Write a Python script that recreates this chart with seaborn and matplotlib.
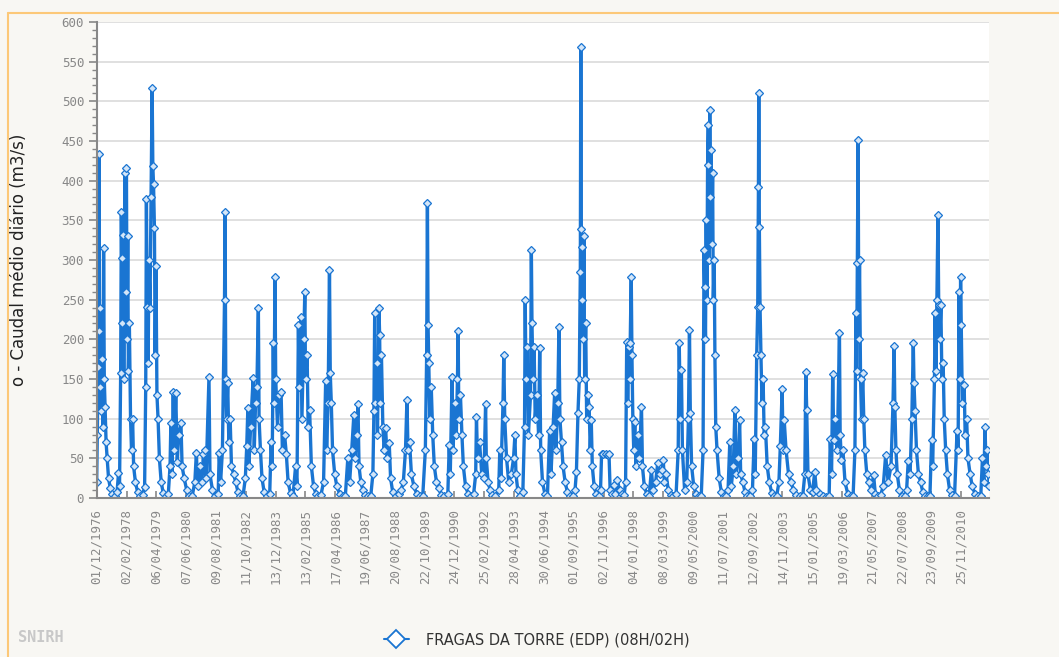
import matplotlib
matplotlib.use("Agg")
import matplotlib.pyplot as plt
from matplotlib.lines import Line2D
from matplotlib.ticker import MultipleLocator
import seaborn as sns
import pandas as pd

# caudal medio diario (m3/s)
leituras_1976_1982 = [
    ("1976-12-01", 20), ("1976-12-10", 80), ("1976-12-20", 165), ("1976-12-28", 210),
    ("1977-01-05", 433), ("1977-01-12", 140), ("1977-01-20", 240), ("1977-02-01", 110),
    ("1977-02-15", 175), ("1977-03-01", 90), ("1977-03-10", 315), ("1977-03-20", 150),
    ("1977-04-01", 115), ("1977-04-15", 70), ("1977-05-01", 50), ("1977-05-20", 25),
    ("1977-06-15", 12), ("1977-07-15", 5), ("1977-08-20", 3), ("1977-09-20", 8),
    ("1977-10-10", 31), ("1977-10-25", 15), ("1977-11-10", 157), ("1977-11-20", 360),
    ("1977-11-25", 303), ("1977-12-05", 220), ("1977-12-15", 331), ("1977-12-25", 150),
    ("1978-01-10", 410), ("1978-01-20", 260), ("1978-02-01", 416), ("1978-02-10", 200),
    ("1978-02-20", 330), ("1978-03-01", 160), ("1978-03-15", 220), ("1978-04-01", 100),
    ("1978-04-15", 60), ("1978-05-01", 100), ("1978-05-15", 40), ("1978-06-10", 20),
    ("1978-07-10", 8), ("1978-08-15", 3), ("1978-09-20", 4), ("1978-10-20", 14),
    ("1978-11-05", 140), ("1978-11-15", 377), ("1978-11-25", 241), ("1978-12-10", 170),
    ("1978-12-20", 300), ("1979-01-05", 240), ("1979-01-20", 380), ("1979-02-05", 517),
    ("1979-02-15", 418), ("1979-02-25", 396), ("1979-03-10", 340), ("1979-03-20", 180),
    ("1979-04-01", 292), ("1979-04-15", 130), ("1979-05-01", 100), ("1979-05-20", 50),
    ("1979-06-15", 20), ("1979-07-15", 6), ("1979-08-20", 3), ("1979-09-25", 5),
    ("1979-10-20", 40), ("1979-11-01", 94), ("1979-11-15", 30), ("1979-12-05", 134),
    ("1979-12-20", 60), ("1980-01-10", 132), ("1980-02-01", 45), ("1980-02-20", 80),
    ("1980-03-25", 94), ("1980-04-10", 40), ("1980-05-10", 25), ("1980-06-15", 10),
    ("1980-07-20", 3), ("1980-09-01", 2), ("1980-10-10", 20), ("1980-11-01", 57),
    ("1980-11-20", 15), ("1980-12-20", 40), ("1981-01-20", 20), ("1981-02-10", 56),
    ("1981-03-01", 61), ("1981-03-20", 25), ("1981-05-01", 153), ("1981-05-15", 30),
    ("1981-06-20", 10), ("1981-08-01", 3), ("1981-09-10", 5), ("1981-09-25", 57),
    ("1981-10-15", 20), ("1981-11-10", 60), ("1981-12-10", 250), ("1981-12-18", 360),
    ("1981-12-28", 150), ("1982-01-10", 100), ("1982-01-25", 145), ("1982-02-10", 70),
    ("1982-03-01", 100), ("1982-03-20", 40), ("1982-04-20", 30), ("1982-05-20", 20),
    ("1982-06-20", 8), ("1982-07-25", 3), ("1982-09-01", 2), ("1982-10-05", 25),
]

leituras_1982_1989 = [
    ("1982-10-25", 65), ("1982-11-10", 113), ("1982-11-25", 40), ("1982-12-20", 90),
    ("1983-01-25", 151), ("1983-02-10", 60), ("1983-03-01", 120), ("1983-03-20", 140),
    ("1983-04-10", 240), ("1983-04-20", 100), ("1983-05-10", 60), ("1983-06-01", 25),
    ("1983-07-01", 8), ("1983-08-10", 3), ("1983-09-20", 5), ("1983-10-10", 71),
    ("1983-10-25", 40), ("1983-11-10", 196), ("1983-11-20", 120), ("1983-12-05", 278),
    ("1983-12-15", 150), ("1984-01-10", 90), ("1984-02-01", 130), ("1984-03-01", 134),
    ("1984-03-20", 60), ("1984-04-20", 80), ("1984-05-15", 56), ("1984-06-10", 20),
    ("1984-07-15", 6), ("1984-08-20", 3), ("1984-09-25", 40), ("1984-10-15", 15),
    ("1984-11-05", 218), ("1984-11-15", 140), ("1984-12-10", 228), ("1984-12-25", 100),
    ("1985-01-20", 200), ("1985-02-05", 260), ("1985-02-15", 150), ("1985-03-10", 180),
    ("1985-03-25", 90), ("1985-04-15", 111), ("1985-05-10", 40), ("1985-06-10", 15),
    ("1985-07-15", 5), ("1985-08-20", 2), ("1985-09-25", 4), ("1985-11-01", 20),
    ("1985-12-01", 147), ("1985-12-15", 60), ("1986-01-05", 120), ("1986-01-25", 288),
    ("1986-02-05", 158), ("1986-02-20", 120), ("1986-03-10", 60), ("1986-04-10", 30),
    ("1986-05-10", 15), ("1986-06-20", 5), ("1986-08-01", 2), ("1986-09-10", 3),
    ("1986-10-15", 50), ("1986-11-10", 20), ("1986-12-10", 60), ("1987-01-10", 105),
    ("1987-01-25", 50), ("1987-02-20", 80), ("1987-03-10", 119), ("1987-03-25", 40),
    ("1987-04-20", 20), ("1987-05-20", 10), ("1987-06-25", 4), ("1987-08-01", 2),
    ("1987-09-10", 3), ("1987-10-10", 30), ("1987-10-25", 110), ("1987-11-05", 233),
    ("1987-11-15", 120), ("1987-12-01", 170), ("1987-12-15", 80), ("1988-01-05", 239),
    ("1988-01-15", 205), ("1988-01-25", 120), ("1988-02-10", 180), ("1988-03-01", 90),
    ("1988-03-20", 60), ("1988-04-10", 88), ("1988-05-01", 50), ("1988-06-01", 69),
    ("1988-06-20", 25), ("1988-07-20", 8), ("1988-09-01", 3), ("1988-10-15", 5),
    ("1988-11-20", 10), ("1988-12-20", 20), ("1989-01-20", 60), ("1989-02-10", 124),
    ("1989-02-25", 60), ("1989-03-20", 70), ("1989-04-15", 30), ("1989-05-20", 15),
    ("1989-07-01", 5), ("1989-08-15", 2), ("1989-09-25", 3),
]

leituras_1989_1997 = [
    ("1989-11-01", 60), ("1989-11-20", 180), ("1989-12-01", 372), ("1989-12-10", 218),
    ("1989-12-20", 170), ("1990-01-05", 100), ("1990-01-25", 140), ("1990-02-15", 80),
    ("1990-03-10", 40), ("1990-04-10", 20), ("1990-05-10", 12), ("1990-06-20", 4),
    ("1990-08-01", 2), ("1990-09-20", 5), ("1990-10-10", 67), ("1990-10-25", 30),
    ("1990-11-20", 153), ("1990-12-05", 60), ("1990-12-25", 120), ("1991-01-20", 80),
    ("1991-02-05", 150), ("1991-02-15", 210), ("1991-02-25", 100), ("1991-03-20", 130),
    ("1991-04-10", 80), ("1991-05-01", 40), ("1991-06-01", 15), ("1991-07-10", 5),
    ("1991-08-20", 2), ("1991-09-25", 5), ("1991-10-25", 30), ("1991-11-05", 102),
    ("1991-11-20", 50), ("1991-12-20", 70), ("1992-01-20", 30), ("1992-02-20", 25),
    ("1992-03-15", 119), ("1992-03-25", 50), ("1992-04-20", 20), ("1992-05-20", 10),
    ("1992-06-20", 4), ("1992-08-01", 2), ("1992-09-20", 10), ("1992-10-05", 61),
    ("1992-10-20", 25), ("1992-11-20", 120), ("1992-12-01", 180), ("1992-12-15", 100),
    ("1993-01-10", 50), ("1993-02-10", 20), ("1993-03-20", 30), ("1993-04-20", 50),
    ("1993-05-10", 79), ("1993-05-25", 30), ("1993-06-20", 10), ("1993-07-25", 3),
    ("1993-09-01", 8), ("1993-09-25", 90), ("1993-10-05", 250), ("1993-10-15", 150),
    ("1993-11-01", 190), ("1993-11-20", 80), ("1993-12-20", 130), ("1994-01-01", 313),
    ("1994-01-10", 220), ("1994-01-25", 150), ("1994-02-10", 190), ("1994-02-25", 100),
    ("1994-03-20", 130), ("1994-04-15", 80), ("1994-05-01", 189), ("1994-05-15", 60),
    ("1994-06-10", 20), ("1994-07-15", 5), ("1994-08-20", 3), ("1994-09-20", 84),
    ("1994-10-10", 30), ("1994-11-10", 90), ("1994-12-01", 132), ("1994-12-20", 60),
    ("1995-01-15", 120), ("1995-02-01", 216), ("1995-02-15", 100), ("1995-03-10", 70),
    ("1995-04-01", 40), ("1995-05-01", 20), ("1995-06-01", 8), ("1995-07-10", 3),
    ("1995-08-20", 2), ("1995-09-20", 10), ("1995-10-10", 33), ("1995-11-01", 107),
    ("1995-11-20", 150), ("1995-12-05", 285), ("1995-12-12", 569), ("1995-12-18", 339),
    ("1995-12-25", 316), ("1996-01-05", 250), ("1996-01-15", 200), ("1996-01-25", 330),
    ("1996-02-05", 150), ("1996-02-20", 220), ("1996-03-05", 100), ("1996-03-20", 130),
    ("1996-04-10", 115), ("1996-04-25", 60), ("1996-05-10", 98), ("1996-05-25", 40),
    ("1996-06-20", 15), ("1996-07-20", 5), ("1996-08-25", 3), ("1996-09-20", 10),
    ("1996-10-05", 55), ("1996-11-01", 56), ("1996-12-01", 55), ("1997-01-01", 54),
    ("1997-01-20", 55), ("1997-02-05", 10), ("1997-03-01", 5), ("1997-04-01", 16),
    ("1997-04-20", 5), ("1997-05-20", 23), ("1997-06-20", 10), ("1997-07-20", 5),
    ("1997-08-25", 4), ("1997-09-15", 20),
]

leituras_1997_2004 = [
    ("1997-10-01", 197), ("1997-10-15", 120), ("1997-11-01", 190), ("1997-11-10", 150),
    ("1997-11-20", 196), ("1997-12-05", 279), ("1997-12-15", 180), ("1997-12-28", 100),
    ("1998-01-10", 60), ("1998-01-25", 96), ("1998-02-10", 40), ("1998-03-10", 80),
    ("1998-04-01", 50), ("1998-05-01", 115), ("1998-05-15", 40), ("1998-06-10", 15),
    ("1998-07-15", 5), ("1998-08-20", 3), ("1998-09-20", 35), ("1998-10-15", 10),
    ("1998-11-20", 20), ("1998-12-20", 44), ("1999-01-20", 30), ("1999-02-20", 35),
    ("1999-03-10", 48), ("1999-03-25", 20), ("1999-04-20", 30), ("1999-05-20", 10),
    ("1999-06-25", 4), ("1999-08-01", 2), ("1999-09-10", 5), ("1999-10-10", 60),
    ("1999-10-25", 196), ("1999-11-10", 100), ("1999-11-25", 161), ("1999-12-10", 60),
    ("2000-01-10", 10), ("2000-02-10", 20), ("2000-03-05", 100), ("2000-03-20", 212),
    ("2000-04-01", 107), ("2000-04-20", 40), ("2000-05-20", 15), ("2000-06-25", 5),
    ("2000-08-01", 2), ("2000-09-05", 3), ("2000-10-01", 60), ("2000-10-15", 313),
    ("2000-10-25", 266), ("2000-11-05", 200), ("2000-11-15", 350), ("2000-11-25", 250),
    ("2000-12-05", 420), ("2000-12-15", 470), ("2000-12-25", 300), ("2001-01-05", 489),
    ("2001-01-15", 380), ("2001-01-25", 439), ("2001-02-05", 320), ("2001-02-15", 410),
    ("2001-02-25", 250), ("2001-03-10", 300), ("2001-03-20", 180), ("2001-04-01", 90),
    ("2001-04-20", 60), ("2001-05-20", 25), ("2001-06-20", 8), ("2001-07-25", 3),
    ("2001-09-01", 2), ("2001-09-25", 10), ("2001-10-20", 71), ("2001-11-10", 15),
    ("2001-12-10", 40), ("2002-01-01", 111), ("2002-01-20", 30), ("2002-02-20", 50),
    ("2002-03-10", 98), ("2002-03-25", 30), ("2002-04-25", 20), ("2002-05-25", 8),
    ("2002-06-25", 3), ("2002-08-01", 2), ("2002-09-10", 10), ("2002-10-05", 75),
    ("2002-10-20", 30), ("2002-11-10", 180), ("2002-11-25", 241), ("2002-12-05", 392),
    ("2002-12-10", 510), ("2002-12-18", 341), ("2002-12-28", 241), ("2003-01-10", 180),
    ("2003-01-25", 120), ("2003-02-10", 150), ("2003-02-25", 80), ("2003-03-15", 90),
    ("2003-04-10", 40), ("2003-05-10", 20), ("2003-06-15", 6), ("2003-07-20", 3),
    ("2003-08-25", 3), ("2003-09-25", 20), ("2003-10-15", 65), ("2003-11-10", 137),
    ("2003-11-25", 60), ("2003-12-10", 98), ("2004-01-05", 61), ("2004-02-10", 30),
    ("2004-03-20", 20), ("2004-04-20", 10), ("2004-06-01", 4), ("2004-07-20", 2),
    ("2004-09-01", 3),
]

leituras_2004_2012 = [
    ("2004-10-01", 30), ("2004-10-15", 159), ("2004-10-28", 111), ("2004-11-15", 30),
    ("2004-12-20", 10), ("2005-01-20", 8), ("2005-02-20", 33), ("2005-03-15", 10),
    ("2005-05-01", 5), ("2005-06-20", 2), ("2005-08-01", 1), ("2005-09-15", 2),
    ("2005-10-01", 75), ("2005-10-20", 30), ("2005-11-05", 156), ("2005-11-20", 73),
    ("2005-12-10", 100), ("2006-01-10", 60), ("2006-02-10", 208), ("2006-02-20", 80),
    ("2006-03-10", 48), ("2006-04-01", 60), ("2006-05-01", 20), ("2006-06-10", 5),
    ("2006-07-20", 2), ("2006-08-25", 3), ("2006-09-20", 60), ("2006-10-05", 233),
    ("2006-10-15", 160), ("2006-10-25", 296), ("2006-11-05", 451), ("2006-11-15", 200),
    ("2006-11-25", 300), ("2006-12-10", 150), ("2006-12-25", 100), ("2007-01-10", 157),
    ("2007-01-25", 100), ("2007-02-10", 60), ("2007-03-10", 30), ("2007-04-10", 20),
    ("2007-05-10", 10), ("2007-06-15", 29), ("2007-07-10", 5), ("2007-08-20", 2),
    ("2007-09-25", 4), ("2007-11-01", 15), ("2007-12-05", 54), ("2008-01-10", 20),
    ("2008-02-20", 40), ("2008-03-20", 120), ("2008-04-05", 192), ("2008-04-15", 115),
    ("2008-05-01", 60), ("2008-05-20", 30), ("2008-06-20", 10), ("2008-07-25", 3),
    ("2008-09-01", 2), ("2008-10-01", 10), ("2008-10-25", 47), ("2008-11-20", 30),
    ("2008-12-15", 100), ("2009-01-05", 196), ("2009-01-15", 145), ("2009-01-30", 110),
    ("2009-02-20", 60), ("2009-03-20", 30), ("2009-04-20", 20), ("2009-05-20", 8),
    ("2009-06-25", 3), ("2009-08-01", 2), ("2009-09-01", 3), ("2009-09-25", 73),
    ("2009-10-10", 40), ("2009-11-05", 150), ("2009-11-15", 233), ("2009-11-25", 160),
    ("2009-12-10", 250), ("2009-12-25", 357), ("2010-01-05", 243), ("2010-01-20", 200),
    ("2010-02-05", 243), ("2010-02-20", 150), ("2010-03-10", 170), ("2010-03-25", 100),
    ("2010-04-15", 60), ("2010-05-10", 30), ("2010-06-10", 10), ("2010-07-15", 4),
    ("2010-08-20", 2), ("2010-09-25", 84), ("2010-10-10", 60), ("2010-10-25", 260),
    ("2010-11-05", 150), ("2010-11-15", 278), ("2010-11-25", 218), ("2010-12-10", 120),
    ("2011-01-05", 142), ("2011-01-20", 80), ("2011-02-10", 100), ("2011-03-01", 50),
    ("2011-04-01", 30), ("2011-05-01", 15), ("2011-06-10", 5), ("2011-07-20", 2),
    ("2011-09-01", 3), ("2011-09-25", 50), ("2011-10-15", 20), ("2011-11-01", 90),
    ("2011-11-15", 40), ("2011-12-01", 60), ("2011-12-20", 30), ("2012-01-01", 15),
]

tick_labels = ["01/12/1976", "02/02/1978", "06/04/1979", "07/06/1980", "09/08/1981",
               "11/10/1982", "13/12/1983", "13/02/1985", "17/04/1986", "19/06/1987",
               "20/08/1988", "22/10/1989", "24/12/1990", "25/02/1992", "28/04/1993",
               "30/06/1994", "01/09/1995", "02/11/1996", "04/01/1998", "08/03/1999",
               "09/05/2000", "11/07/2001", "12/09/2002", "14/11/2003", "15/01/2005",
               "19/03/2006", "21/05/2007", "22/07/2008", "23/09/2009", "25/11/2010"]

serie_nome = "FRAGAS DA TORRE (EDP) (08H/02H)"
ylabel = "o - Caudal médio diário (m3/s)"

azul = "#1a75d2"
cinza = "#888888"

linhas = (leituras_1976_1982 + leituras_1982_1989 + leituras_1989_1997
          + leituras_1997_2004 + leituras_2004_2012)
df = pd.DataFrame(linhas, columns=["data", "caudal"])
df["data"] = pd.to_datetime(df["data"])

sns.set_style("white")
fig = plt.figure(figsize=(10.59, 6.57), dpi=100, facecolor="#f8f7f3")
ax = fig.add_axes([0.0913, 0.242, 0.843, 0.7245])
ax.set_facecolor("white")

sns.lineplot(data=df, x="data", y="caudal", ax=ax, color=azul, lw=2.4,
             marker="D", markersize=3.8, markerfacecolor="#d3e5f8",
             markeredgecolor=azul, markeredgewidth=0.9, estimator=None,
             sort=False, legend=False)

ax.set_ylim(0, 600)
ax.set_xlim(pd.Timestamp("1976-12-01"), pd.Timestamp("2012-01-03"))
ax.yaxis.set_major_locator(MultipleLocator(50))
ax.yaxis.set_minor_locator(MultipleLocator(10))
ax.grid(axis="y", color="#dddddd", lw=1.3)
ax.set_axisbelow(True)

ax.set_xticks(pd.to_datetime(tick_labels, format="%d/%m/%Y"))
ax.set_xticklabels(tick_labels, rotation=90, family="DejaVu Sans Mono",
                   fontsize=9, color=cinza)
for t in ax.get_yticklabels():
    t.set_family("DejaVu Sans Mono")
ax.tick_params(axis="y", which="major", direction="out", length=6, width=1.2,
               color=cinza, labelcolor=cinza, labelsize=9, pad=3, left=True)
ax.tick_params(axis="y", which="minor", direction="out", length=3.5, width=1,
               color=cinza, left=True)
ax.tick_params(axis="x", direction="in", length=5, width=1.2, color=cinza,
               pad=8, bottom=True)

for s in ["top", "right"]:
    ax.spines[s].set_visible(False)
for s in ["left", "bottom"]:
    ax.spines[s].set_color(cinza)
    ax.spines[s].set_linewidth(1.5)

ax.set_xlabel("")
ax.set_ylabel(ylabel, fontsize=12, color="#222222", labelpad=24)

# moldura laranja e marca SNIRH
fig.add_artist(Line2D([0.0076, 1], [0.980, 0.980], color="#fcc878", lw=1.5))
fig.add_artist(Line2D([0.0076, 0.0076], [0, 0.980], color="#fcc878", lw=1.5))
fig.text(0.017, 0.03, "SNIRH", fontsize=11, fontweight="bold",
         family="DejaVu Sans Mono", color="#c8c8c8", va="center")

handle = Line2D([], [], color=azul, lw=1.5, marker="D", markersize=9,
                markerfacecolor="white", markeredgecolor=azul, markeredgewidth=1.3)
fig.legend([handle], [serie_nome], loc="center", bbox_to_anchor=(0.507, 0.026),
           frameon=False, fontsize=10.5, handlelength=1.7, handletextpad=1.2,
           labelcolor="#333333")

fig.savefig("out.png", dpi=100, facecolor=fig.get_facecolor())
